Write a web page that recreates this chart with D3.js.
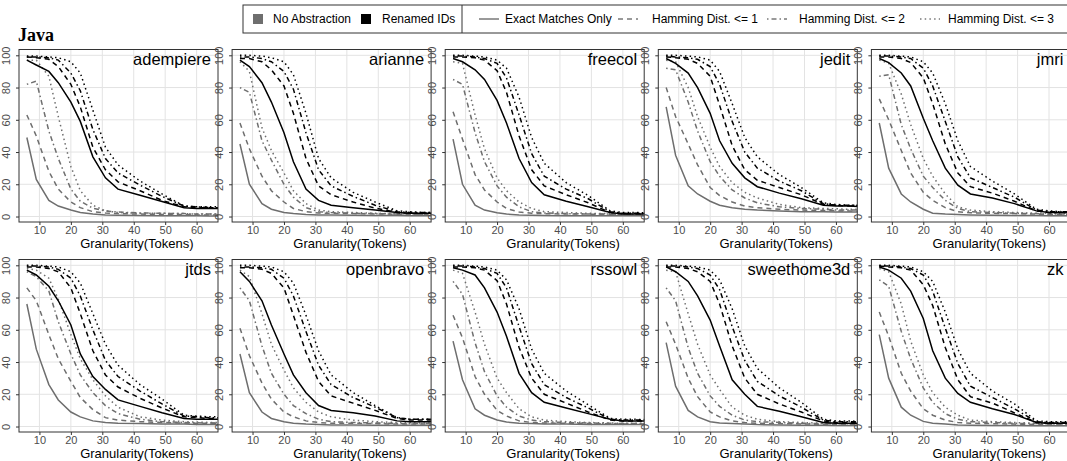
<!DOCTYPE html>
<html>
<head>
<meta charset="utf-8">
<script src="https://cdn.jsdelivr.net/npm/d3@7"></script>
<style>
body { margin: 0; background: #fff; }
text { font-family: "Liberation Sans", Arial, sans-serif; }
</style>
</head>
<body>
<svg id="chart" width="1067" height="461"></svg>
<script>
// granularity (tokens) at which every series was sampled
var granularity = [6, 9, 13, 16, 20, 23, 27, 31, 35, 42, 49, 56, 60, 64, 70];
var projects = ["adempiere", "arianne", "freecol", "jedit", "jmri",
                "jtds", "openbravo", "rssowl", "sweethome3d", "zk"];
var abstractions = ["No Abstraction", "Renamed IDs"];
var matchTypes = ["Exact Matches Only", "Hamming Dist. <= 1", "Hamming Dist. <= 2", "Hamming Dist. <= 3"];
var xTicks = [10, 20, 30, 40, 50, 60];
var yTicks = [0, 20, 40, 60, 80, 100];

// rows: exact, <=1, <=2, <=3
var adempiereNoAbs = [
  [49, 23, 10, 6.5, 4, 2.5, 1.5, 1, 0.8, 0.6, 0.5, 0.4, 0.4, 0.3, 0.3],
  [63, 50, 28, 17, 9, 5.5, 3, 2.2, 1.8, 1.5, 1.3, 1.2, 1, 1, 1],
  [82, 84, 53, 36, 17, 9.5, 5.2, 3.5, 2.8, 2.2, 2, 1.8, 1.5, 1.5, 1.5],
  [97, 97, 87, 62, 31, 16, 7, 3.5, 2.5, 2, 2, 1.8, 1.5, 1.5, 1.5]];
var adempiereRenamed = [
  [97, 94, 90, 83, 71, 59, 37, 24, 17, 13.2, 9.3, 5.5, 5, 5, 5],
  [99, 98.5, 97.5, 93, 82, 68, 43, 29, 21.5, 16, 10, 6, 5.5, 5.5, 5],
  [99, 99, 98.5, 97, 89, 78, 54, 36, 27, 19.5, 12.5, 6.5, 6, 5.5, 5.5],
  [99.5, 99.5, 99, 98.5, 96, 89, 66, 43, 32, 22, 14, 6.5, 6, 6, 6]];

var arianneNoAbs = [
  [45, 20, 8, 4.5, 2.5, 1.8, 1.3, 1, 1, 0.8, 0.7, 0.6, 0.5, 0.5, 0.5],
  [58, 42, 25, 16, 9, 5, 3, 2.2, 2, 1.8, 1.6, 1.4, 1.2, 1.2, 1.2],
  [80, 77, 47, 35, 20, 12, 5.5, 3, 2.5, 2, 1.8, 1.5, 1.3, 1.3, 1.3],
  [96, 90, 55, 41, 27, 16, 8, 4, 3, 2.5, 2, 1.8, 1.5, 1.5, 1.5]];
var arianneRenamed = [
  [97, 93, 83, 71, 52, 34, 17, 10, 7, 5.5, 4, 2.5, 2, 2, 2],
  [98, 98, 96, 91, 81, 64, 36, 19, 13.5, 9, 5.2, 2.5, 2, 2, 2],
  [99, 99, 98, 96, 90, 79, 52, 29, 19, 12.5, 7, 3, 2.5, 2.5, 2.5],
  [100, 100, 99.5, 98.5, 96, 88, 64, 36, 24, 15, 9, 3.5, 3, 2.5, 2.5]];

var freecolNoAbs = [
  [48, 20, 7, 4, 2.3, 1.5, 1, 0.8, 0.6, 0.5, 0.5, 0.5, 0.4, 0.4, 0.4],
  [65, 48, 26, 16.5, 9, 5, 2.8, 2, 1.8, 1.5, 1.5, 1.3, 1.2, 1.2, 1.2],
  [85, 82, 52, 34, 19, 12, 6, 3, 2.2, 1.8, 1.6, 1.5, 1.3, 1.3, 1.3],
  [96, 95, 63, 42, 24, 16, 9, 5, 3, 2.5, 2, 1.8, 1.5, 1.5, 1.5]];
var freecolRenamed = [
  [98, 96, 91, 85, 72, 58, 36, 21, 13.5, 9.5, 6, 2.5, 1.5, 1.5, 1.5],
  [99, 99, 98.5, 97, 90.5, 77, 50, 29, 19, 13.5, 8.5, 2.5, 1.8, 1.8, 1.8],
  [99.5, 99.5, 99, 98, 95, 86, 63, 39, 25, 17, 11, 3, 2, 2, 2],
  [100, 100, 99.5, 99, 97, 92, 74, 49, 33, 21, 13, 3.5, 2.5, 2.5, 2]];

var jeditNoAbs = [
  [68, 38, 19, 14, 9.5, 7, 5.5, 4.5, 4, 3.5, 3, 3, 2.8, 2.8, 2.7],
  [80, 62, 45, 32, 18, 13, 9, 6.5, 5.5, 4.5, 4, 3.8, 3.5, 3.5, 3.3],
  [92, 91, 71, 53, 34, 25, 16.5, 11.5, 8.5, 6, 5, 4.5, 4, 4, 4],
  [97, 96, 80, 62, 43, 31, 21, 15, 11.5, 7.5, 5.5, 5, 4.8, 4.5, 4.5]];
var jeditRenamed = [
  [98, 95, 89, 80, 64, 47, 33, 24, 18.5, 14.5, 11, 7, 6.5, 6.5, 6],
  [99, 98.5, 97.5, 95, 87, 69, 44, 29, 22.5, 18, 13.5, 7.5, 7, 6.5, 6.5],
  [99.5, 99, 98.5, 97.5, 93, 82, 59, 40, 30, 22, 16, 8, 7, 7, 7],
  [100, 100, 99.5, 99, 97, 90, 70, 49, 37, 26, 18, 8.5, 7.5, 7, 7]];

var jmriNoAbs = [
  [58, 30, 14, 9, 4.5, 2, 1.5, 1.2, 1, 0.8, 0.7, 0.6, 0.5, 0.5, 0.5],
  [73, 60, 41, 27, 15, 10, 5.5, 3, 2.3, 2, 1.8, 1.5, 1.3, 1.3, 1.2],
  [87, 88, 57, 42, 25, 18, 10, 5, 3, 2.5, 2, 1.8, 1.5, 1.5, 1.5],
  [97, 95, 76, 57, 36, 25, 14, 6, 4, 3, 2.5, 2, 2, 1.8, 1.8]];
var jmriRenamed = [
  [98, 95.5, 89, 81, 61, 47, 30, 19.5, 14, 11.5, 8, 3.5, 2.5, 2.5, 2.5],
  [99, 99, 98, 95.5, 86, 70, 45, 27, 18.5, 14.5, 9.5, 3.5, 2.5, 2.5, 2.5],
  [99.5, 99.5, 99, 98, 92, 81, 59, 37, 24, 18, 12, 4, 3, 3, 3],
  [100, 100, 99.5, 99, 96, 89, 70, 47, 31, 22, 14, 4.5, 3.5, 3, 3]];

var jtdsNoAbs = [
  [76, 48, 26, 16.5, 9, 6, 3.5, 2.5, 2, 1.8, 1.5, 1.5, 1.3, 1.3, 1.2],
  [86, 78, 57, 42, 28, 18, 10.5, 5.5, 4, 3, 2.5, 2.2, 2, 2, 2],
  [96, 93, 84, 65, 45, 32, 21, 13, 8, 4.5, 3, 2.5, 2.3, 2.2, 2],
  [98, 97, 92, 79, 57, 42, 29, 19, 12, 6, 4, 3, 2.8, 2.5, 2.5]];
var jtdsRenamed = [
  [97, 94, 87, 78, 63, 45, 31, 23, 16.5, 12.5, 8.5, 5, 4.5, 4.5, 4.5],
  [99, 99, 98, 96, 86, 70, 47, 32, 24.5, 17.5, 11.5, 6, 5.5, 5, 5],
  [99.5, 99.5, 99, 97.5, 92, 81, 60, 41, 31, 22, 14, 6.5, 6, 5.5, 5.5],
  [100, 100, 99.5, 99, 96, 89, 70, 51, 38, 26, 17, 7, 6.5, 6, 6]];

var openbravoNoAbs = [
  [45, 21, 9, 5, 3, 2, 1.5, 1.2, 1, 1, 0.8, 0.8, 0.8, 0.8, 0.8],
  [61, 44, 27, 17, 9, 6, 3.5, 2.5, 2, 2, 1.8, 1.5, 1.5, 1.5, 1.5],
  [86, 78, 50, 33, 20, 13, 8, 4.5, 3, 2.5, 2.2, 2, 1.8, 1.8, 1.8],
  [97, 93, 70, 51, 35, 24, 15, 9, 6, 4, 3, 2.5, 2.3, 2.2, 2.2]];
var openbravoRenamed = [
  [96, 90, 78, 63, 45, 32, 21, 13, 10, 8.5, 6.5, 3.5, 3, 3, 3],
  [98.5, 98.5, 97.5, 95, 86, 69, 46, 28, 19, 14.5, 10, 5, 4, 4, 4],
  [99, 99, 98.5, 97.5, 92, 81, 59, 38, 26, 18, 12, 5.5, 4.5, 4.5, 4.5],
  [100, 100, 99.5, 99, 96, 89, 69, 47, 32, 21, 13, 5.5, 4.5, 4.5, 4.5]];

var rssowlNoAbs = [
  [53, 29, 11, 7, 4, 2.8, 2, 1.8, 1.6, 1.5, 1.3, 1.2, 1.2, 1.2, 1.2],
  [69, 55, 31, 20, 10, 6.5, 3.5, 2.5, 2.2, 2, 1.8, 1.6, 1.5, 1.5, 1.5],
  [90, 82, 52, 34, 19, 12, 6.5, 4, 3, 2.5, 2.2, 2, 1.8, 1.8, 1.8],
  [97, 95, 71, 51, 30, 21, 11, 6, 4, 3, 2.5, 2.2, 2, 2, 2]];
var rssowlRenamed = [
  [98.5, 97, 94, 86, 71, 56, 33, 21, 15, 11.5, 8, 4.5, 3.5, 3.5, 3.5],
  [99, 99, 98.5, 97, 90.5, 76, 49, 30, 20, 14.5, 9, 4, 3.5, 3.5, 3.5],
  [99.5, 99.5, 99, 98, 95, 86, 62, 39, 26, 18, 11.5, 4.5, 4, 4, 4],
  [100, 100, 99.5, 99, 97, 91, 73, 48, 33, 22, 13.5, 5, 4.5, 4.5, 4]];

var sweethome3dNoAbs = [
  [52, 25, 10, 6, 3, 2.2, 1.8, 1.5, 1.2, 1, 0.8, 0.8, 0.7, 0.7, 0.7],
  [65, 51, 30, 18.5, 9, 6, 3.5, 2.5, 2, 1.8, 1.6, 1.4, 1.3, 1.3, 1.3],
  [86, 78, 49, 33, 19, 12.5, 7, 4, 3, 2.5, 2, 1.8, 1.7, 1.7, 1.6],
  [97, 96, 70, 51, 32, 23, 12, 7, 4.5, 3, 2.5, 2, 2, 1.8, 1.8]];
var sweethome3dRenamed = [
  [99, 96, 90, 81, 66, 50, 29, 20, 12.5, 9.5, 6, 2.5, 2, 2, 2],
  [99, 99, 98, 96, 90, 76, 50, 30, 20, 14, 9, 3.5, 2.5, 2.5, 2.5],
  [99.5, 99.5, 99, 98, 94, 85, 62, 41, 28, 19, 12, 4, 3, 3, 3],
  [100, 100, 99.5, 99, 97, 91, 73, 50, 36, 24, 15, 4.5, 3.5, 3.5, 3]];

var zkNoAbs = [
  [57, 30, 12, 7, 3.2, 2, 1.5, 1, 0.8, 0.7, 0.6, 0.5, 0.5, 0.5, 0.5],
  [71, 56, 33, 22, 11, 7, 4, 2.5, 2, 1.8, 1.5, 1.3, 1.2, 1.2, 1.2],
  [91, 87, 59, 42, 24, 15, 8, 4.5, 3, 2.5, 2, 1.8, 1.6, 1.5, 1.5],
  [98, 96, 76, 53, 32, 21, 12, 7, 4, 3, 2.5, 2, 2, 1.8, 1.8]];
var zkRenamed = [
  [99, 97, 92, 84, 67, 47, 30, 20.5, 15, 11, 7.5, 2.5, 2, 2, 2],
  [99.5, 99, 98.5, 97, 88, 75, 49, 29, 18.5, 14.5, 8.5, 2.5, 2, 2, 2],
  [99.5, 99.5, 99, 98, 94, 84, 61, 39, 25, 18, 11, 3, 2.5, 2.5, 2.5],
  [100, 100, 99.5, 99, 96, 90, 71, 48, 33, 22, 14, 3.5, 3, 3, 3]];

var projectData = {
  adempiere: [adempiereNoAbs, adempiereRenamed],
  arianne: [arianneNoAbs, arianneRenamed],
  freecol: [freecolNoAbs, freecolRenamed],
  jedit: [jeditNoAbs, jeditRenamed],
  jmri: [jmriNoAbs, jmriRenamed],
  jtds: [jtdsNoAbs, jtdsRenamed],
  openbravo: [openbravoNoAbs, openbravoRenamed],
  rssowl: [rssowlNoAbs, rssowlRenamed],
  sweethome3d: [sweethome3dNoAbs, sweethome3dRenamed],
  zk: [zkNoAbs, zkRenamed]
};

var colors = ["#6e6e6e", "#000000"];
var dashes = [null, "5,4", "1.5,3,5,3", "1.5,3.2"];

var panelW = 199, panelH = 172.5;
var stepX = 213.1, stepY = 210;
var left0 = 19, top0 = 49.5;

var svg = d3.select("#chart");

svg.append("text")
    .attr("x", 18)
    .attr("y", 41)
    .style("font-family", "'Liberation Serif', 'Times New Roman', serif")
    .style("font-weight", "bold")
    .style("font-size", "18px")
    .text("Java");

var x = d3.scaleLinear().domain([3.5, 66.8]).range([0, panelW]);
var y = d3.scaleLinear().domain([-3.4, 103.6]).range([panelH, 0]);

var line = d3.line()
    .x((d, i) => x(granularity[i]))
    .y(d => y(d));

svg.append("clipPath")
    .attr("id", "panelClip")
    .append("rect")
    .attr("width", panelW)
    .attr("height", panelH);

projects.forEach(function (name, p) {
    var col = p % 5, row = Math.floor(p / 5);
    var g = svg.append("g")
        .attr("transform", "translate(" + (left0 + col * stepX) + "," + (top0 + row * stepY) + ")");

    // grid
    g.selectAll(".vgrid").data(xTicks).enter().append("line")
        .attr("x1", d => x(d)).attr("x2", d => x(d))
        .attr("y1", 0).attr("y2", panelH)
        .attr("stroke", "#e3e3e3").attr("stroke-width", 1);
    g.selectAll(".hgrid").data(yTicks).enter().append("line")
        .attr("y1", d => y(d)).attr("y2", d => y(d))
        .attr("x1", 0).attr("x2", panelW)
        .attr("stroke", "#e3e3e3").attr("stroke-width", 1);

    // lines
    var plot = g.append("g").attr("clip-path", "url(#panelClip)");
    projectData[name].forEach(function (set, a) {
        set.forEach(function (vals, m) {
            plot.append("path")
                .attr("d", line(vals))
                .attr("fill", "none")
                .attr("stroke", colors[a])
                .attr("stroke-width", 1.5)
                .attr("stroke-dasharray", dashes[m]);
        });
    });

    // axes
    var xAxis = d3.axisBottom(x).tickValues(xTicks).tickSize(3).tickPadding(1);
    var gx = g.append("g").attr("transform", "translate(0," + panelH + ")").call(xAxis);
    gx.select(".domain").remove();
    gx.selectAll("line").attr("stroke", "#333");
    gx.selectAll("text").style("font-size", "11px").attr("fill", "#4d4d4d");

    var yAxis = d3.axisLeft(y).tickValues(yTicks).tickSize(3).tickPadding(2);
    var gy = g.append("g").call(yAxis);
    gy.select(".domain").remove();
    gy.selectAll("line").attr("stroke", "#333");
    gy.selectAll("text")
        .style("font-size", "11px")
        .attr("fill", "#4d4d4d")
        .attr("text-anchor", "middle")
        .attr("x", null)
        .attr("dy", null)
        .attr("transform", "translate(-9,0) rotate(-90)");

    g.append("rect")
        .attr("width", panelW).attr("height", panelH)
        .attr("fill", "none").attr("stroke", "#333").attr("stroke-width", 1);

    g.append("text")
        .attr("x", panelW - 7)
        .attr("y", 15.5)
        .attr("text-anchor", "end")
        .style("font-size", "16.5px")
        .text(name);

    // the axis title sits off-centre in the source, under ~41 tokens
    g.append("text")
        .attr("x", x(41))
        .attr("y", panelH + 26)
        .attr("text-anchor", "middle")
        .style("font-size", "13px")
        .text("Granularity(Tokens)");
});

// legend
var legend = svg.append("g");
legend.append("rect")
    .attr("x", 243).attr("y", 5).attr("width", 830).attr("height", 28)
    .attr("fill", "#fff").attr("stroke", "#333").attr("stroke-width", 1);
legend.append("line")
    .attr("x1", 462).attr("x2", 462).attr("y1", 5).attr("y2", 33)
    .attr("stroke", "#333");

var fillKeys = [{x: 253, tx: 273}, {x: 361, tx: 382}];
abstractions.forEach(function (label, i) {
    legend.append("rect")
        .attr("x", fillKeys[i].x).attr("y", 14)
        .attr("width", 10).attr("height", 10)
        .attr("fill", colors[i]);
    legend.append("text")
        .attr("x", fillKeys[i].tx).attr("y", 23)
        .style("font-size", "12px")
        .text(label);
});

var lineKeys = [{x: 479, tx: 505}, {x: 618, tx: 652}, {x: 767, tx: 799}, {x: 920, tx: 948}];
matchTypes.forEach(function (label, i) {
    legend.append("line")
        .attr("x1", lineKeys[i].x).attr("x2", lineKeys[i].x + 20)
        .attr("y1", 19).attr("y2", 19)
        .attr("stroke", "#000").attr("stroke-width", 0.8)
        .attr("stroke-dasharray", dashes[i]);
    legend.append("text")
        .attr("x", lineKeys[i].tx).attr("y", 23)
        .style("font-size", "12px")
        .text(label);
});
</script>
</body>
</html>
